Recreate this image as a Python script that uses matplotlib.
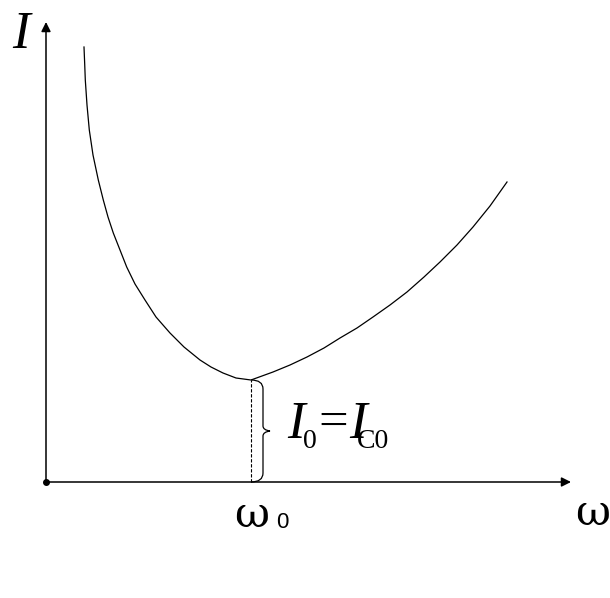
import matplotlib
matplotlib.use("Agg")
import matplotlib.pyplot as plt
from matplotlib.path import Path
from matplotlib.patches import PathPatch

# curve (omega, current) in axis units
omega = [38, 38.7, 39.3, 41, 43.3, 47, 52.3, 57.3, 62, 67.3, 74, 80.7, 89, 99, 110, 124,
         138, 154, 165, 177, 190, 205, 216, 227, 244, 261, 278, 294, 311, 327,
         344, 361, 378, 394, 411, 427, 444, 461]
current = [435, 418, 402, 377, 352, 327, 302, 282, 265, 249, 232, 215, 198, 182, 165, 149,
           135, 122, 115, 109, 104, 102, 106, 110, 117, 125, 134, 144, 154, 165,
           177, 190, 205, 220, 237, 255, 276, 300]
omega0 = 205
I0 = 102
x_max, y_max = 525, 460

fig = plt.figure(figsize=(6.1, 5.98), dpi=100)
ax = fig.add_axes([0, 0, 1, 1])
ax.set_xlim(-46, 564)
ax.set_ylim(-116, 482)
ax.axis("off")

# axes with arrows
ax.annotate("", xy=(x_max, 0), xytext=(0, 0),
            arrowprops=dict(arrowstyle="-|>", color="black", lw=1.1,
                            mutation_scale=14, shrinkA=0, shrinkB=0))
ax.annotate("", xy=(0, y_max), xytext=(0, 0),
            arrowprops=dict(arrowstyle="-|>", color="black", lw=1.1,
                            mutation_scale=14, shrinkA=0, shrinkB=0))
ax.plot([0], [0], "o", color="black", ms=4)

ax.plot(omega, current, color="black", lw=0.9)
ax.plot([omega0, omega0], [0, I0], color="black", lw=0.8, ls=(0, (3, 1.5)))

# brace beside the dashed line
mid = I0 / 2
bw, tip = 12, 19
verts = [(omega0, I0), (omega0 + bw, I0), (omega0 + bw, I0 - 9),
         (omega0 + bw, mid + 5), (omega0 + bw, mid + 1), (omega0 + tip, mid),
         (omega0 + bw, mid - 1), (omega0 + bw, mid - 5),
         (omega0 + bw, 9), (omega0 + bw, 0), (omega0, 0)]
codes = [Path.MOVETO, Path.CURVE3, Path.CURVE3,
         Path.LINETO, Path.CURVE3, Path.CURVE3,
         Path.CURVE3, Path.CURVE3,
         Path.LINETO, Path.CURVE3, Path.CURVE3]
ax.add_patch(PathPatch(Path(verts, codes), fill=False, lw=0.9, color="black"))

serif = "Liberation Serif"
ax.text(-25, 447, "I", fontsize=38, family=serif, style="italic", ha="center", va="center")
ax.text(547, -31, "ω", fontsize=31, family="DejaVu Serif", ha="center", va="center")
ax.text(206, -33, "ω", fontsize=31, family="DejaVu Serif", ha="center", va="center")
ax.text(236, -40, "0", fontsize=16, family="Liberation Sans", ha="center", va="center")

ax.text(250, 57, "I", fontsize=38, family=serif, style="italic", ha="center", va="center")
ax.text(264, 41, "0", fontsize=20, family=serif, ha="center", va="center")
ax.text(287, 58, "=", fontsize=38, family=serif, ha="center", va="center")
ax.text(312, 57, "I", fontsize=38, family=serif, style="italic", ha="center", va="center")
ax.text(327, 41, "C0", fontsize=20, family=serif, ha="center", va="center")

fig.savefig("out.png", dpi=100)
